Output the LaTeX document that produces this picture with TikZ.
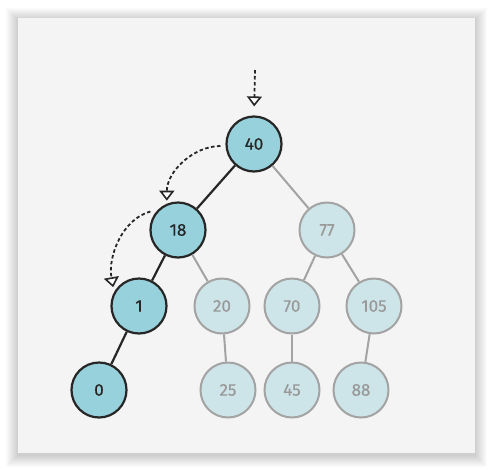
\documentclass[tikz,border=0pt]{standalone}
\usepackage{fontspec}
\setmainfont{Fira Sans}
\newfontfamily\nodefont{Fira Sans}[FakeBold=0.5]
\usetikzlibrary{arrows.meta}
\definecolor{hpCard}{HTML}{F4F4F4}
\definecolor{hpOn}{HTML}{96D1DC}
\definecolor{hpOff}{HTML}{CDE5E9}
\definecolor{hpInk}{HTML}{262626}
\definecolor{hpGrey}{HTML}{A3A3A3}
\definecolor{hpText}{HTML}{999999}

\begin{document}
\begin{tikzpicture}[x=1pt,y=-1pt,
  on/.style={circle,draw=hpInk,fill=hpOn,line width=2.2pt,minimum size=55pt,
    inner sep=0pt,text=hpInk,font=\nodefont\fontsize{17}{17}\selectfont},
  off/.style={circle,draw=hpGrey,fill=hpOff,line width=2pt,minimum size=55pt,
    inner sep=0pt,text=hpText,font=\nodefont\fontsize{17}{17}\selectfont},
  hot/.style={draw=hpInk,line width=2.2pt},
  cold/.style={draw=hpGrey,line width=2pt},
  walk/.style={draw=hpInk,line width=1.8pt,dash pattern=on 3.5pt off 2.5pt,
    -{Triangle[open,fill=white,length=10pt,width=15pt,line width=1.6pt]}}
]
\useasboundingbox (0,0) rectangle (493,472);
\fill[white] (0,0) rectangle (493,472);
% soft shadow round the card
\foreach \d in {1,...,12}
  \fill[black,opacity=0.014] (18-\d,18-\d+2) rectangle (475+\d,453+\d+2);
\fill[hpCard] (18,18) rectangle (475,453);

% nodes
\node[on]  (n40)  at (254,144) {40};
\node[on]  (n18)  at (178,230) {18};
\node[off] (n77)  at (327,230) {77};
\node[on]  (n1)   at (139,306) {1};
\node[off] (n20)  at (222,306) {20};
\node[off] (n70)  at (292,306) {70};
\node[off] (n105) at (374,306) {105};
\node[on]  (n0)   at (99,390)  {0};
\node[off] (n25)  at (228,390) {25};
\node[off] (n45)  at (292,390) {45};
\node[off] (n88)  at (361,390) {88};

% edges
\draw[hot] (n40) -- (n18); \draw[hot] (n18) -- (n1); \draw[hot] (n1) -- (n0);
\draw[cold] (n40) -- (n77); \draw[cold] (n18) -- (n20);
\draw[cold] (n77) -- (n70); \draw[cold] (n77) -- (n105);
\draw[cold] (n20) -- (n25); \draw[cold] (n70) -- (n45);
\draw[cold] (n105) -- (n88);

% search path
\coordinate (entry) at (255,70);
\draw[walk,shorten >=9pt] (entry) -- (n40.north);
\draw[walk,shorten <=5pt,shorten >=3pt] (n40.184) to[out=180,in=90] (n18.113);
\draw[walk,shorten <=8pt,shorten >=5pt] (n18.134) to[out=195,in=100] (n1.151);
\end{tikzpicture}
\end{document}
